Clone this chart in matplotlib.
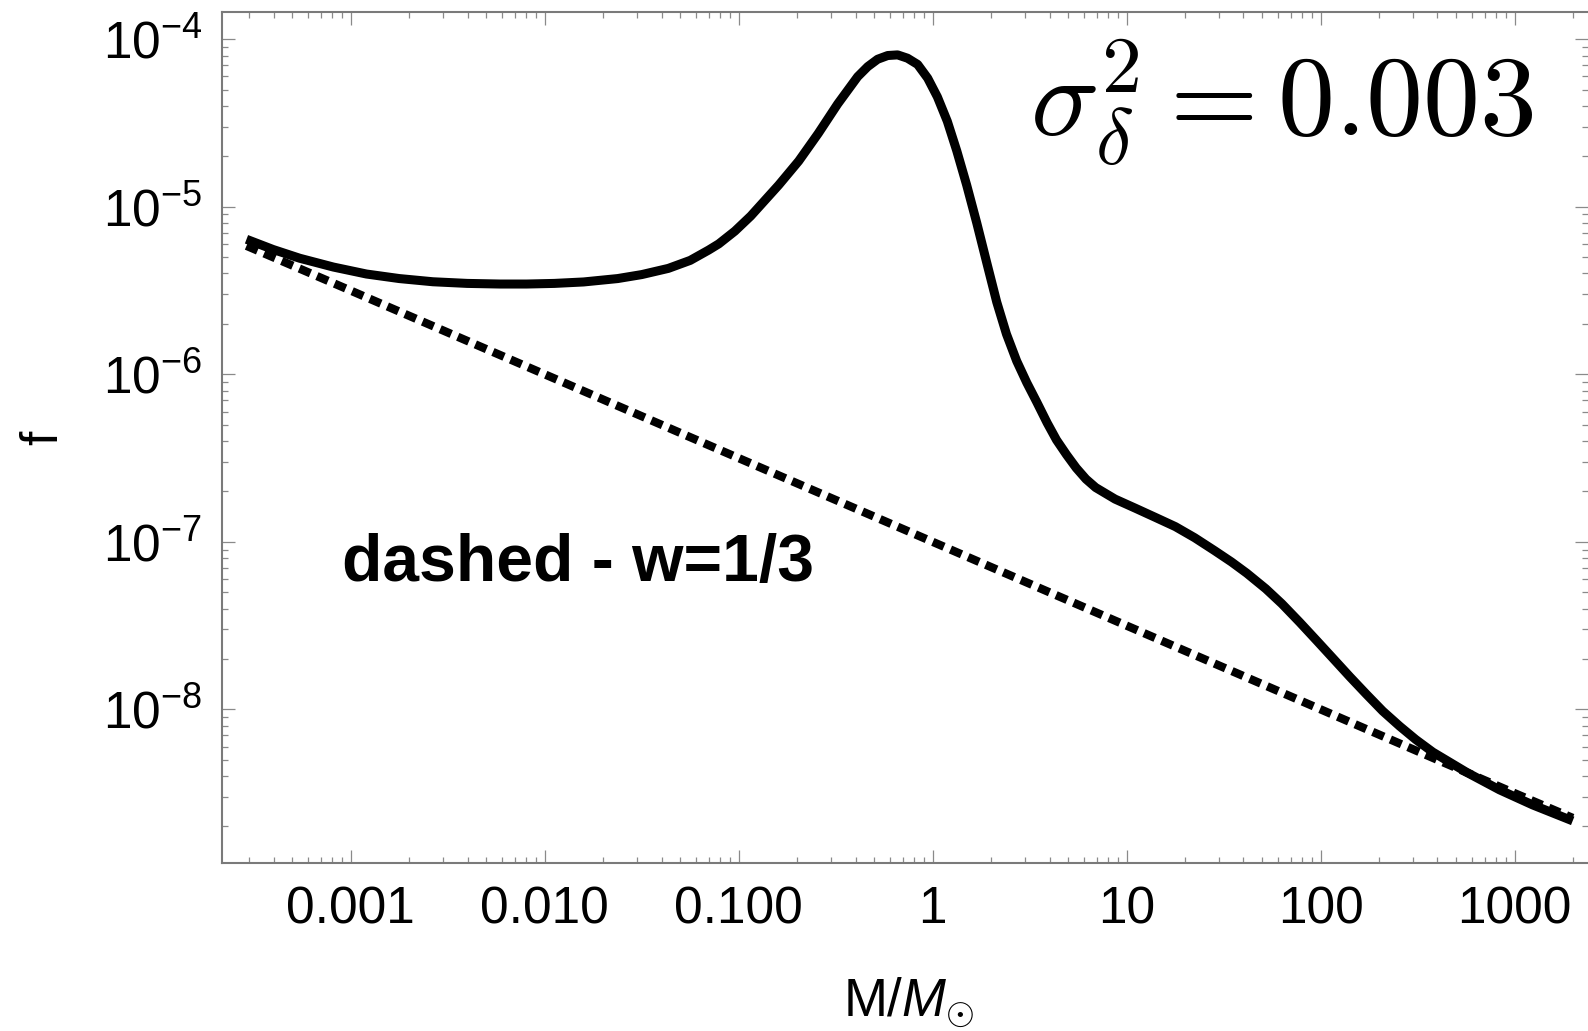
import matplotlib
matplotlib.use("Agg")
import matplotlib.pyplot as plt
from matplotlib.ticker import FixedLocator, FixedFormatter, LogLocator, NullFormatter

plt.rcParams['font.family'] = ['Liberation Sans', 'DejaVu Sans']
plt.rcParams['mathtext.fontset'] = 'custom'
plt.rcParams['mathtext.rm'] = 'Liberation Sans'
plt.rcParams['mathtext.it'] = 'Liberation Sans:italic'
plt.rcParams['mathtext.bf'] = 'Liberation Sans:bold'

# solid curve
mass = [2.9e-4, 3.98e-4, 5.46e-4, 8.13e-4, 1.205e-3, 1.778e-3, 2.649e-3, 3.98e-3, 5.87e-3, 8.07e-3,
        0.01122, 0.01585, 0.02377, 0.03162, 0.04335, 0.05623, 0.06998, 0.07889, 0.0955, 0.1153,
        0.1607, 0.2037, 0.257, 0.3236, 0.4102, 0.4624, 0.52, 0.5861, 0.6592, 0.7413,
        0.8356, 0.9419, 1.057, 1.189, 1.33, 1.496, 1.687, 1.905, 2.138, 2.399,
        2.71, 3.055, 3.436, 3.89, 4.345, 4.898, 5.495, 6.166, 6.918, 8.71,
        11.12, 14.13, 17.82, 22.39, 28.44, 34.67, 41.59, 52.12, 63.1, 77.98,
        95.5, 115.6, 141.3, 172.2, 208.9, 255.3, 309.0, 378.4, 563.6, 835.6,
        1239.0, 1991.0]
f_solid = [6.40e-6, 5.56e-6, 4.93e-6, 4.37e-6, 3.97e-6, 3.73e-6, 3.57e-6, 3.49e-6, 3.46e-6, 3.46e-6,
           3.49e-6, 3.56e-6, 3.73e-6, 3.94e-6, 4.29e-6, 4.79e-6, 5.52e-6, 6.01e-6, 7.16e-6, 8.81e-6,
           1.349e-5, 1.875e-5, 2.742e-5, 4.11e-5, 5.98e-5, 6.87e-5, 7.60e-5, 8.00e-5, 8.07e-5, 7.71e-5,
           7.08e-5, 5.86e-5, 4.53e-5, 3.24e-5, 2.16e-5, 1.349e-5, 8.0e-6, 4.57e-6, 2.70e-6, 1.74e-6,
           1.20e-6, 8.91e-7, 6.84e-7, 5.13e-7, 4.06e-7, 3.31e-7, 2.76e-7, 2.37e-7, 2.11e-7, 1.80e-7,
           1.585e-7, 1.396e-7, 1.233e-7, 1.059e-7, 8.85e-8, 7.59e-8, 6.50e-8, 5.25e-8, 4.27e-8, 3.31e-8,
           2.57e-8, 2.02e-8, 1.567e-8, 1.23e-8, 9.77e-9, 7.94e-9, 6.61e-9, 5.56e-9, 4.22e-9, 3.31e-9,
           2.69e-9, 2.16e-9]

# dashed line (w=1/3)
mass_w = [2.9e-4, 1e-3, 1e-2, 0.1, 1.0, 10.0, 100.0, 1000.0, 1991.0]
f_w = [5.85e-6, 3.16e-6, 1.0e-6, 3.16e-7, 1.0e-7, 3.16e-8, 1.0e-8, 3.16e-9, 2.25e-9]

xticks = [1e-3, 1e-2, 1e-1, 1, 10, 100, 1000]
xlabels = ['0.001', '0.010', '0.100', '1', '10', '100', '1000']
yticks = [1e-8, 1e-7, 1e-6, 1e-5, 1e-4]
ylabels = [r'$\mathregular{10^{-8}}$', r'$\mathregular{10^{-7}}$', r'$\mathregular{10^{-6}}$',
           r'$\mathregular{10^{-5}}$', r'$\mathregular{10^{-4}}$']

fig = plt.figure(figsize=(15.88, 10.31), dpi=100)
ax = fig.add_axes([0.1396, 0.1629, 0.8604, 0.8257])

ax.plot(mass, f_solid, color='black', lw=6.5, solid_capstyle='butt', solid_joinstyle='round')
ax.plot(mass_w, f_w, color='black', lw=6.0, linestyle=(0, (1.45, 0.85)), dash_capstyle='butt')

ax.set_xscale('log')
ax.set_yscale('log')
ax.set_xlim(2.16e-4, 2388)
ax.set_ylim(1.21e-9, 1.46e-4)

ax.xaxis.set_major_locator(FixedLocator(xticks))
ax.xaxis.set_major_formatter(FixedFormatter(xlabels))
ax.yaxis.set_major_locator(FixedLocator(yticks))
ax.yaxis.set_major_formatter(FixedFormatter(ylabels))
for axis in (ax.xaxis, ax.yaxis):
    axis.set_minor_locator(LogLocator(base=10, subs=range(2, 10), numticks=30))
    axis.set_minor_formatter(NullFormatter())

ax.tick_params(which='both', direction='in', top=True, right=True, color='#8a8a8a', width=0.9)
ax.tick_params(which='major', length=9.4)
ax.tick_params(which='minor', length=4.3)
ax.tick_params(axis='x', which='major', labelsize=37, pad=16)
ax.tick_params(axis='y', which='major', labelsize=37, pad=14)

for s in ax.spines.values():
    s.set_color('#7a7a7a')
    s.set_linewidth(1.5)
ax.spines['right'].set_visible(False)

ax.set_xlabel(r'M/$M_{\odot}$', fontsize=38)
ax.xaxis.set_label_coords(0.503, -0.133)
ax.set_ylabel('f', fontsize=37)
ax.yaxis.set_label_coords(-0.112, 0.5)

ax.text(0.0878, 0.331, 'dashed - w=1/3', transform=ax.transAxes, fontsize=47.5,
        fontweight='bold', ha='left', va='baseline')
ax.text(0.5916, 0.853, r'$\sigma_\delta^2 = 0.003$', transform=ax.transAxes, fontsize=82,
        math_fontfamily='cm', ha='left', va='baseline')

fig.savefig('out.png', dpi=100)
